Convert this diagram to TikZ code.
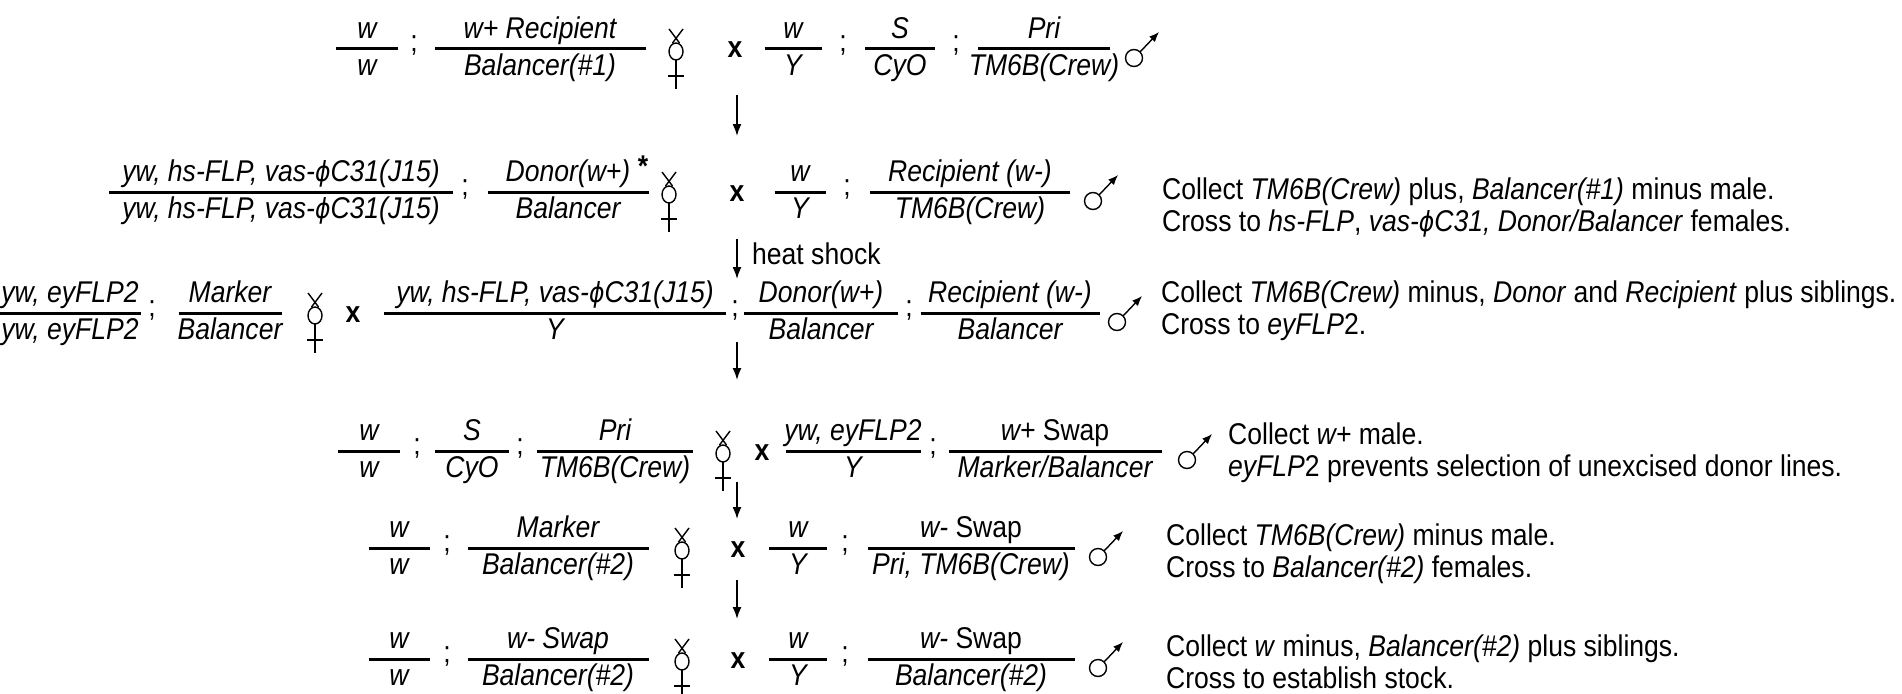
\documentclass[tikz,border=0pt]{standalone}
\usepackage{fontspec}
\setmainfont{Liberation Sans}[FakeStretch=0.885]
\newfontfamily\phifont{DejaVu Sans}[FakeStretch=0.85,Scale=0.92]
\usetikzlibrary{arrows.meta}
\newcommand\fz{\fontsize{30}{32}\selectfont}
\newcommand\vphi{{\phifont\itshape ϕ}}
\newcommand\Frac[6]{%
  \draw[fl] ({#2-#4/2},#3) -- ({#2+#4/2},#3);
  \node[nm] (#1n) at (#2,#3) {#5};
  \node[dn] (#1d) at (#2,#3) {#6};}
\newcommand\Semi[3]{\node[sc] (#1) at (#2,#3) {;};}
\newcommand\Crs[3]{\node[crs] (#1) at (#2,#3) {x};}
\newcommand\Fem[2]{\begin{scope}[shift={(#1,#2)}]
  \draw[sym] (-7,-20) -- (3.5,-6) (7,-20) -- (-3.5,-6);
  \draw[sym] (0,2.5) ellipse [x radius=7, y radius=8.5];
  \draw[sym] (0,11) -- (0,40) (-8,27) -- (8,27);
\end{scope}}
\newcommand\Mal[2]{\begin{scope}[shift={(#1,#2)}]
  \draw[sym] (0,9) circle [radius=8.5];
  \draw[sym,-{Latex[length=10pt,width=8pt]}] (6,3) -- (25,-17);
\end{scope}}
\begin{document}
\begin{tikzpicture}[x=1pt,y=-1pt,
  fl/.style={line width=3pt},
  txt/.style={font=\fz, inner sep=0pt},
  nm/.style={txt, font=\fz\itshape, anchor=base, yshift=11pt},
  dn/.style={txt, font=\fz\itshape, anchor=base, yshift=-26pt},
  sc/.style={txt, anchor=base, yshift=-3pt},
  crs/.style={txt, font=\fz\bfseries, anchor=base, yshift=-9pt},
  note/.style={txt, anchor=base west},
  sym/.style={line width=1.4pt},
  arr/.style={line width=1.6pt, -{Latex[length=12pt,width=9pt]}}]
\useasboundingbox (0,0) rectangle (1902,693);

% ---------- Row 1 ----------
\Frac{r1a}{367}{49}{62}{w}{w}
\Semi{s1a}{414}{49}
\Frac{r1b}{540}{49}{211}{w+ Recipient}{Balancer(\#1)}
\Fem{676}{49}
\Crs{x1}{735}{49}
\Frac{r1c}{793}{49}{57}{w}{Y}
\Semi{s1b}{843}{49}
\Frac{r1d}{900}{49}{70}{S}{CyO}
\Semi{s1c}{956}{49}
\Frac{r1e}{1044}{49}{132}{Pri}{TM6B(Crew)}
\Mal{1134}{49}

\coordinate (a1s) at (737,95); \coordinate (a1e) at (737,136);
\draw[arr] (a1s) -- (a1e);

% ---------- Row 2 ----------
\Frac{r2a}{281}{192}{344}{yw, hs-FLP, vas-\vphi C31(J15)}{yw, hs-FLP, vas-\vphi C31(J15)}
\Semi{s2a}{465}{192}
\Frac{r2b}{568}{192}{161}{Donor(w+)}{Balancer}
\node[txt, font=\fz\bfseries] (ast) at (643,166) {*};
\Fem{669}{192}
\Crs{x2}{737}{192}
\Frac{r2c}{800}{192}{51}{w}{Y}
\Semi{s2b}{847}{192}
\Frac{r2d}{970}{192}{200}{Recipient (w-)}{TM6B(Crew)}
\Mal{1093}{192}
\node[note] (n2a) at (1162,199) {Collect \textit{TM6B(Crew)} plus, \textit{Balancer(\#1)} minus male.};
\node[note] (n2b) at (1162,231) {Cross to \textit{hs-FLP}, \textit{vas-\vphi C31, Donor/Balancer} females.};

\coordinate (a2s) at (737,239); \coordinate (a2e) at (737,279);
\draw[arr] (a2s) -- (a2e);
\node[txt, anchor=mid west] (hs) at (752,262) {heat shock};

% ---------- Row 3 ----------
\Frac{r3a}{70}{313}{141}{yw, eyFLP2}{yw, eyFLP2}
\Semi{s3a}{152}{313}
\Frac{r3b}{230}{313}{103}{Marker}{Balancer}
\Fem{315}{313}
\Crs{x3}{353}{313}
\Frac{r3c}{555}{313}{342}{yw, hs-FLP, vas-\vphi C31(J15)}{Y}
\Semi{s3b}{735}{313}
\Frac{r3d}{821}{313}{154}{Donor(w+)}{Balancer}
\Semi{s3c}{909}{313}
\Frac{r3e}{1010}{313}{179}{Recipient (w-)}{Balancer}
\Mal{1117}{313}
\node[note] (n3a) at (1161,302) {Collect \textit{TM6B(Crew)} minus, \textit{Donor} and \textit{Recipient} plus siblings.};
\node[note] (n3b) at (1161,334) {Cross to \textit{eyFLP}2.};

\coordinate (a3s) at (737,342); \coordinate (a3e) at (737,380);
\draw[arr] (a3s) -- (a3e);

% ---------- Row 4 ----------
\Frac{r4a}{369}{451}{62}{w}{w}
\Semi{s4a}{417}{451}
\Frac{r4b}{472}{451}{74}{S}{CyO}
\Semi{s4b}{520}{451}
\Frac{r4c}{615}{451}{156}{Pri}{TM6B(Crew)}
\Fem{723}{451}
\Crs{x4}{762}{451}
\Frac{r4d}{853}{451}{135}{yw, eyFLP2}{Y}
\Semi{s4c}{933}{451}
\Frac{r4e}{1055}{451}{213}{w+ \textup{Swap}}{Marker/Balancer}
\Mal{1187}{451}
\node[note] (n4a) at (1228,444) {Collect \textit{w+} male.};
\node[note] (n4b) at (1228,476) {\textit{eyFLP}2 prevents selection of unexcised donor lines.};

\coordinate (a4s) at (737,482); \coordinate (a4e) at (737,519);
\draw[arr] (a4s) -- (a4e);

% ---------- Row 5 ----------
\Frac{r5a}{399}{548}{61}{w}{w}
\Semi{s5a}{447}{548}
\Frac{r5b}{558}{548}{181}{Marker}{Balancer(\#2)}
\Fem{682}{548}
\Crs{x5}{738}{548}
\Frac{r5c}{798}{548}{58}{w}{Y}
\Semi{s5b}{845}{548}
\Frac{r5d}{971}{548}{207}{w- \textup{Swap}}{Pri, TM6B(Crew)}
\Mal{1098}{548}
\node[note] (n5a) at (1166,545) {Collect \textit{TM6B(Crew)} minus male.};
\node[note] (n5b) at (1166,577) {Cross to \textit{Balancer(\#2)} females.};

\coordinate (a5s) at (737,580); \coordinate (a5e) at (737,619);
\draw[arr] (a5s) -- (a5e);

% ---------- Row 6 ----------
\Frac{r6a}{399}{659}{61}{w}{w}
\Semi{s6a}{447}{659}
\Frac{r6b}{558}{659}{181}{w- Swap}{Balancer(\#2)}
\Fem{682}{659}
\Crs{x6}{738}{659}
\Frac{r6c}{798}{659}{58}{w}{Y}
\Semi{s6b}{845}{659}
\Frac{r6d}{971}{659}{207}{w- \textup{Swap}}{Balancer(\#2)}
\Mal{1098}{659}
\node[note] (n6a) at (1166,656) {Collect \textit{w} minus, \textit{Balancer(\#2)} plus siblings.};
\node[note] (n6b) at (1166,688) {Cross to establish stock.};
\end{tikzpicture}
\end{document}
